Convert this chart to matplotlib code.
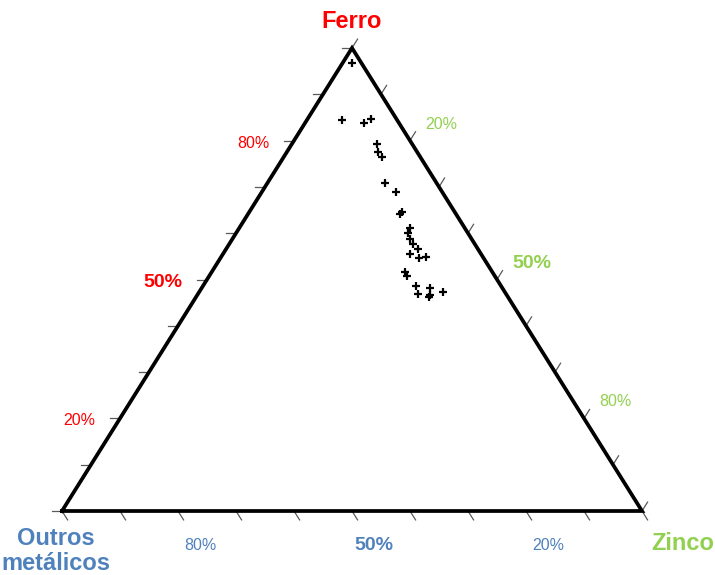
import numpy as np
import matplotlib.pyplot as plt

plt.rcParams['font.family'] = ['Liberation Sans', 'DejaVu Sans']

# composição das amostras (%)
ferro = [96.8, 84.5, 83.7, 84.6, 79.2, 77.5, 76.5, 70.9, 68.9, 64.2, 64.6, 61.1, 60.0, 58.7,
         57.7, 56.6, 55.5, 54.7, 54.9, 51.6, 50.7, 48.6, 48.2, 46.9, 46.2, 46.7, 47.3]
zinco = [1.6, 6.0, 10.3, 11.0, 14.7, 15.7, 16.9, 20.2, 23.1, 26.2, 26.4, 29.4, 29.6, 30.6,
         31.7, 33.1, 32.3, 34.2, 35.3, 33.3, 34.2, 36.8, 39.3, 38.0, 40.1, 40.1, 42.0]
outros = [1.6, 9.5, 6.0, 4.4, 6.1, 6.8, 6.6, 8.9, 8.0, 9.6, 9.0, 9.5, 10.4, 10.7,
          10.6, 10.3, 12.2, 11.1, 9.8, 15.1, 15.1, 14.6, 12.5, 15.1, 13.7, 13.2, 10.7]

tick_pct = [0, 10, 20, 30, 40, 50, 60, 70, 80, 90, 100]
label_pct = [20, 50, 80]

RED = '#FF0000'
GREEN = '#92D050'
BLUE = '#4F81BD'

# triangle frame in pixel units
X0, Y0, W, H = 62, 511, 580, 463
TICK = 10.5


def tern_xy(f, z, o):
    s = np.asarray(f) + np.asarray(z) + np.asarray(o)
    f = np.asarray(f) / s
    z = np.asarray(z) / s
    return X0 + W * (z + f / 2), Y0 - H * f


fig = plt.figure(figsize=(7.15, 5.75), dpi=100)
ax = fig.add_axes([0, 0, 1, 1])
ax.set_xlim(0, 715)
ax.set_ylim(575, 0)
ax.axis('off')

# outward tick directions
d = np.array([W / 2, H]) / np.hypot(W / 2, H)
dir_left = np.array([-1.0, 0.0])
dir_right = np.array([d[0], -d[1]])
dir_bottom = np.array([d[0], d[1]])

tick_kw = dict(color='#5a5a5a', lw=0.9, zorder=1)
for p in tick_pct:
    # Ferro (left side)
    bx, by = tern_xy(p, 0, 100 - p)
    ax.plot([bx, bx + TICK * dir_left[0]], [by, by + TICK * dir_left[1]], **tick_kw)
    # Zinco (right side)
    bx, by = tern_xy(100 - p, p, 0)
    ax.plot([bx, bx + TICK * dir_right[0]], [by, by + TICK * dir_right[1]], **tick_kw)
    # Outros metálicos (base)
    bx, by = tern_xy(0, 100 - p, p)
    ax.plot([bx, bx + TICK * dir_bottom[0]], [by, by + TICK * dir_bottom[1]], **tick_kw)

for p in label_pct:
    big = p == 50
    kw = dict(fontsize=14 if big else 11.5, fontweight='bold' if big else 'normal',
              va='center_baseline')
    bx, by = tern_xy(p, 0, 100 - p)
    ax.text(bx - 25, by + 1, f'{p}%', color=RED, ha='right', **kw)
    bx, by = tern_xy(100 - p, p, 0)
    ax.text(bx + 15, by - 18, f'{p}%', color=GREEN, ha='left', **kw)
    bx, by = tern_xy(0, 100 - p, p)
    ax.text(bx + 22, by + 33, f'{p}%', color=BLUE, ha='center', **kw)

# triangle outline
vx, vy = tern_xy([0, 0, 100, 0], [0, 100, 0, 0], [100, 0, 0, 100])
ax.plot(vx, vy, color='black', lw=2.7, solid_joinstyle='miter', zorder=3)

# samples
px, py = tern_xy(ferro, zinco, outros)
ax.plot(px, py, linestyle='none', marker='+', color='black', markersize=5.5,
        markeredgewidth=1.6, zorder=4)

ax.text(352, 22, 'Ferro', color=RED, fontsize=17, fontweight='bold',
        ha='center', va='center')
ax.text(683, 543, 'Zinco', color=GREEN, fontsize=17, fontweight='bold',
        ha='center', va='center')
ax.text(56, 551, 'Outros\nmetálicos', color=BLUE, fontsize=17, fontweight='bold',
        ha='center', va='center', linespacing=1.15)

fig.savefig('out.png', dpi=100)
